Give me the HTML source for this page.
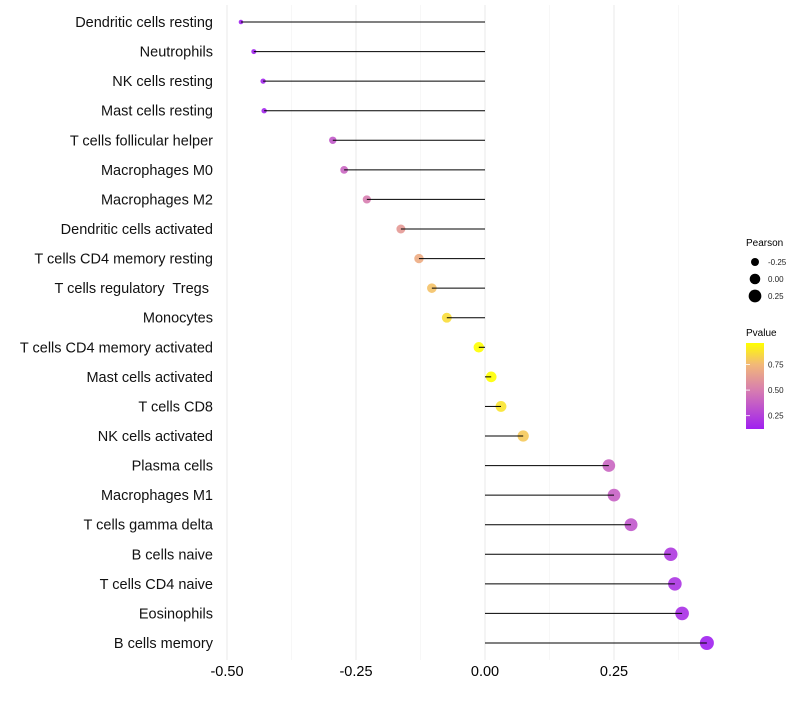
<!DOCTYPE html>
<html><head><meta charset="utf-8"><style>
body{margin:0;background:#fff;}
svg{font-family:"Liberation Sans",sans-serif;}
</style></head><body>
<svg id="chart" width="800" height="700">
<g id="grid"></g>
<g id="marks"></g>
<g id="ylabels"></g>
<g id="xlabels"></g>
<g>
<text x="746" y="246" font-size="10">Pearson</text>
<g id="sizeleg"></g>
<text x="746" y="336" font-size="10">Pvalue</text>
<defs><linearGradient id="cb" x1="0" y1="1" x2="0" y2="0">
<stop offset="0" stop-color="#a020f0"/><stop offset="0.45" stop-color="#d77db0"/><stop offset="0.75" stop-color="#f2b878"/><stop offset="1" stop-color="#ffff00"/>
</linearGradient></defs>
<rect x="746" y="343" width="18" height="86" fill="url(#cb)"/>
<g id="cbleg"></g>
</g>
</svg>
<script>
const categories=["Dendritic cells resting","Neutrophils","NK cells resting","Mast cells resting","T cells follicular helper","Macrophages M0","Macrophages M2","Dendritic cells activated","T cells CD4 memory resting","T cells regulatory  Tregs ","Monocytes","T cells CD4 memory activated","Mast cells activated","T cells CD8","NK cells activated","Plasma cells","Macrophages M1","T cells gamma delta","B cells naive","T cells CD4 naive","Eosinophils","B cells memory"];
const pearson=[-0.473,-0.448,-0.430,-0.428,-0.295,-0.273,-0.229,-0.163,-0.128,-0.103,-0.074,-0.012,0.012,0.031,0.074,0.240,0.250,0.283,0.360,0.368,0.382,0.430];
const pvalue=[0.12,0.13,0.14,0.14,0.35,0.40,0.50,0.62,0.70,0.78,0.86,0.96,0.98,0.88,0.80,0.40,0.38,0.34,0.22,0.20,0.18,0.12];
const xTicks=[-0.5,-0.25,0,0.25];
const xTickLabels=["-0.50","-0.25","0.00","0.25"];
const sizeLegend=[-0.25,0,0.25];
const sizeLegendLabels=["-0.25","0.00","0.25"];
const cbTicks=[0.75,0.5,0.25];
const cbTickLabels=["0.75","0.50","0.25"];
const NS="http://www.w3.org/2000/svg";
const xs=v=>485+v*516;
const ys=i=>22+i*(621/21);
const rs=v=>Math.sqrt(Math.max(2.5,6.25+(v+0.448)*48.7));
const stops=[[0.12,[160,32,240]],[0.5,[215,125,176]],[0.75,[242,184,120]],[0.96,[255,255,0]]];
function col(p){p=Math.max(0.12,Math.min(0.96,p));for(let k=0;k<stops.length-1;k++){const a=stops[k],b=stops[k+1];if(p<=b[0]){const t=(p-a[0])/(b[0]-a[0]);return "rgb("+a[1].map((c,j)=>Math.round(c+(b[1][j]-c)*t)).join(",")+")";}}return "rgb(255,255,0)";}
function mk(tag,attrs,parent){const e=document.createElementNS(NS,tag);for(const k in attrs)e.setAttribute(k,attrs[k]);document.getElementById(parent).appendChild(e);return e;}
[-0.375,-0.125,0.125,0.375].forEach(v=>{const l=mk("line",{x1:xs(v),x2:xs(v),y1:5,y2:660,stroke:"#f2f2f2","stroke-width":0.6},"grid");

});
xTicks.forEach((v,i)=>{const l=mk("line",{x1:xs(v),x2:xs(v),y1:5,y2:660,stroke:"#ebebeb","stroke-width":1.1},"grid");


const t=mk("text",{x:xs(v),y:676,"font-size":14.5,"text-anchor":"middle",fill:"#000"},"xlabels");t.textContent=xTickLabels[i];

});
categories.forEach((c,i)=>{const y=ys(i);
const t=mk("text",{x:213,y:y+5,"font-size":14.5,"text-anchor":"end",fill:"#111",style:"white-space:pre"},"ylabels");t.textContent=c;


const ci=mk("circle",{cx:xs(pearson[i]),cy:y,r:rs(pearson[i]),fill:col(pvalue[i]),"fill-opacity":0.9},"marks");


const l=mk("line",{x1:xs(0),x2:xs(pearson[i]),y1:y,y2:y,stroke:"#000","stroke-width":1},"marks");

});
sizeLegend.forEach((v,i)=>{const y=262+i*17;
const c=mk("circle",{cx:755,cy:y,r:rs(v),fill:"#000"},"sizeleg");


const t=mk("text",{x:768,y:y+3,"font-size":8,fill:"#222"},"sizeleg");t.textContent=sizeLegendLabels[i];

});
cbTicks.forEach((v,i)=>{const y=429-(v-0.12)/0.84*86;
const t=mk("text",{x:768,y:y+3,"font-size":8,fill:"#222"},"cbleg");t.textContent=cbTickLabels[i];


const l=mk("line",{x1:746,x2:750,y1:y,y2:y,stroke:"#fff","stroke-width":0.8},"cbleg");

});
</script>
</body></html>
